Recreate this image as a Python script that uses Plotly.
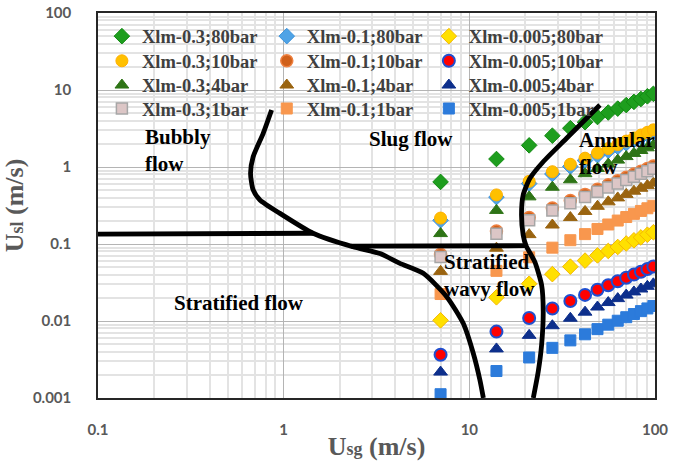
import numpy as np
import plotly.graph_objects as go

# ---------------- data ----------------
usg = [7, 14, 21, 28, 35, 42, 49, 56, 63, 70, 77, 84, 91, 98]

names = ["Xlm-0.3;80bar", "Xlm-0.1;80bar", "Xlm-0.005;80bar",
         "Xlm-0.3;10bar", "Xlm-0.1;10bar", "Xlm-0.005;10bar",
         "Xlm-0.3;4bar", "Xlm-0.1;4bar", "Xlm-0.005;4bar",
         "Xlm-0.3;1bar", "Xlm-0.1;1bar", "Xlm-0.005;1bar"]

usl_03_80 = [0.64, 1.27, 1.91, 2.55, 3.19, 3.82, 4.46, 5.10, 5.73, 6.37, 7.01, 7.64, 8.28, 8.92]
usl_01_80 = [0.203, 0.406, 0.609, 0.812, 1.015, 1.218, 1.421, 1.624, 1.827, 2.03, 2.233, 2.436, 2.639, 2.842]
usl_0005_80 = [0.0102, 0.0203, 0.0305, 0.0406, 0.0508, 0.0609, 0.0711, 0.0812, 0.0914, 0.1015, 0.1117, 0.1218, 0.132, 0.142]
usl_03_10 = [0.217, 0.434, 0.651, 0.868, 1.085, 1.302, 1.519, 1.736, 1.953, 2.17, 2.387, 2.604, 2.821, 3.038]
usl_01_10 = [0.0735, 0.147, 0.2205, 0.294, 0.3675, 0.441, 0.5145, 0.588, 0.6615, 0.735, 0.8085, 0.882, 0.9555, 1.029]
usl_0005_10 = [0.00364, 0.00728, 0.01092, 0.01456, 0.0182, 0.02184, 0.02548, 0.02912, 0.03276, 0.0364, 0.04004, 0.04368, 0.04732, 0.05096]
usl_03_4 = [0.1365, 0.273, 0.4095, 0.546, 0.6825, 0.819, 0.9555, 1.092, 1.2285, 1.365, 1.5015, 1.638, 1.7745, 1.911]
usl_01_4 = [0.0441, 0.0882, 0.1323, 0.1764, 0.2205, 0.2646, 0.3087, 0.3528, 0.3969, 0.441, 0.4851, 0.5292, 0.5733, 0.6174]
usl_0005_4 = [0.00217, 0.00434, 0.00651, 0.00868, 0.01085, 0.01302, 0.01519, 0.01736, 0.01953, 0.0217, 0.02387, 0.02604, 0.02821, 0.03038]
usl_03_1 = [0.0679, 0.1358, 0.2037, 0.2716, 0.3395, 0.4074, 0.4753, 0.5432, 0.6111, 0.679, 0.7469, 0.8148, 0.8827, 0.9506]
usl_01_1 = [0.0224, 0.0448, 0.0672, 0.0896, 0.112, 0.1344, 0.1568, 0.1792, 0.2016, 0.224, 0.2464, 0.2688, 0.2912, 0.3136]
usl_0005_1 = [0.00112, 0.00224, 0.00336, 0.00448, 0.0056, 0.00672, 0.00784, 0.00896, 0.01008, 0.0112, 0.01232, 0.01344, 0.01456, 0.01568]

series_values = [usl_03_80, usl_01_80, usl_0005_80,
                 usl_03_10, usl_01_10, usl_0005_10,
                 usl_03_4, usl_01_4, usl_0005_4,
                 usl_03_1, usl_01_1, usl_0005_1]

# flow-regime boundary lines
bound_left_x = [0.861, 0.776, 0.685, 0.663, 0.685, 0.745, 0.955, 1.44, 2.36, 3.30, 4.23, 5.65, 7.55, 9.27, 10.5, 11.4, 11.9]
bound_left_y = [5.50, 2.74, 1.36, 0.828, 0.503, 0.373, 0.25, 0.138, 0.092, 0.075, 0.056, 0.0416, 0.0207, 0.00933, 0.00381, 0.00171, 0.001]
bound_h1_x = [0.1, 1.44]
bound_h1_y = [0.134, 0.138]
bound_h2_x = [2.3, 20.2]
bound_h2_y = [0.094, 0.095]
bound_right_x = [50.5, 33.4, 25.0, 21.2, 19.5, 19.1, 19.5, 20.2, 22.5, 24.5, 25.0, 24.5, 23.5, 22.1]
bound_right_y = [6.39, 2.36, 1.17, 0.713, 0.433, 0.238, 0.131, 0.095, 0.0589, 0.0294, 0.0132, 0.00488, 0.0022, 0.001]

x_tick_vals = [0.1, 1, 10, 100]
x_tick_text = ["0.1", "1", "10", "100"]
y_tick_vals = [0.001, 0.01, 0.1, 1, 10, 100]
y_tick_text = ["0.001", "0.01", "0.1", "1", "10", "100"]

# ---------------- styles ----------------
styles = [
    dict(symbol="diamond", size=12, color="#1E9E1E", line=dict(color="#138A13", width=1)),
    dict(symbol="diamond", size=12, color="#4FA3E6", line=dict(color="#3D92DA", width=1)),
    dict(symbol="diamond", size=12, color="#FFE000", line=dict(color="#F5B800", width=1)),
    dict(symbol="circle", size=12, color="#FFC000", line=dict(color="#FFB000", width=1)),
    dict(symbol="circle", size=12, color="#D0601A", line=dict(color="#EE8040", width=1.5)),
    dict(symbol="circle", size=12, color="#FF0000", line=dict(color="#1F4FD0", width=2)),
    dict(symbol="triangle-up", size=12, color="#2E7416", line=dict(color="#2E7416", width=1)),
    dict(symbol="triangle-up", size=12, color="#9A6410", line=dict(color="#9A6410", width=1)),
    dict(symbol="triangle-up", size=12, color="#0D2F8C", line=dict(color="#0D2F8C", width=1)),
    dict(symbol="square", size=11, color="#DCC6C6", line=dict(color="#A6A6A6", width=1.5)),
    dict(symbol="square", size=11, color="#F8974E", line=dict(color="#F8974E", width=1)),
    dict(symbol="square", size=11, color="#2C7BDB", line=dict(color="#2C7BDB", width=1)),
]

# legend grid: 3 columns x 4 rows, one legend box per entry
legend_cols_x = [0.007, 0.303, 0.594]
legend_rows_y = [0.988, 0.924, 0.861, 0.800]
legend_font = dict(family="Liberation Serif", size=18.5, color="#404040", weight="bold")

fig = go.Figure()
legend_layout = {}
for i, (name, vals, st) in enumerate(zip(names, series_values, styles)):
    key = "legend" if i == 0 else f"legend{i + 1}"
    legend_layout[key] = dict(orientation="v", x=legend_cols_x[i % 3], y=legend_rows_y[i // 3],
                              xanchor="left", yanchor="top", font=legend_font,
                              bgcolor="rgba(0,0,0,0)", borderwidth=0)
    fig.add_trace(go.Scatter(
        x=usg, y=vals, mode="markers", name=name, legend=key,
        marker=dict(symbol=st["symbol"], size=st["size"], color=st["color"], line=st["line"]),
    ))

for bx, by, shape in [(bound_left_x, bound_left_y, "spline"),
                      (bound_h1_x, bound_h1_y, "linear"),
                      (bound_h2_x, bound_h2_y, "linear"),
                      (bound_right_x, bound_right_y, "spline")]:
    fig.add_trace(go.Scatter(x=bx, y=by, mode="lines", showlegend=False, hoverinfo="skip",
                             line=dict(color="black", width=4.8, shape=shape, smoothing=0.6)))

label_font = dict(family="Liberation Serif", size=21, color="black", weight="bold")
annotations = [
    dict(x=-0.759, y=0.208, text="Bubbly<br>flow", xanchor="left", yanchor="middle", align="left"),
    dict(x=0.686, y=0.364, text="Slug flow", xanchor="center", yanchor="middle"),
    dict(x=1.579, y=0.169, text="Annular<br>flow", xanchor="left", yanchor="middle", align="left"),
    dict(x=0.852, y=-1.403, text="Stratified<br>wavy flow", xanchor="left", yanchor="middle", align="left"),
    dict(x=-0.238, y=-1.766, text="Stratified flow", xanchor="center", yanchor="middle"),
]
for a in annotations:
    a.update(xref="x", yref="y", showarrow=False, font=label_font)

minor_x = [m * 10.0 ** e for e in (-1, 0, 1) for m in range(2, 10)]
minor_y = [m * 10.0 ** e for e in (-3, -2, -1, 0, 1) for m in range(2, 10)]

tick_font = dict(family="Lato", size=15, color="#595959", weight="bold")
title_font = dict(family="Liberation Serif", size=26, color="#595959", weight="bold")

fig.update_layout(
    width=673, height=461,
    margin=dict(l=98, r=18, t=13, b=63),
    paper_bgcolor="white", plot_bgcolor="white",
    showlegend=True,
    annotations=annotations,
    xaxis=dict(type="log", range=[-1, 2], tickvals=x_tick_vals, ticktext=x_tick_text,
               showgrid=True, gridcolor="#B4B4B4", gridwidth=1,
               minor=dict(tickvals=minor_x, showgrid=True, gridcolor="#E3E3E3", gridwidth=1.5),
               showline=True, linecolor="#262626", linewidth=1.5, mirror=True,
               ticks="", tickfont=tick_font, ticklabelstandoff=17, automargin=False,
               title=dict(text="U<span style='font-size:18px'>sg</span> (m/s)", font=title_font, standoff=4),
               zeroline=False),
    yaxis=dict(type="log", range=[-3, 2], tickvals=y_tick_vals, ticktext=y_tick_text,
               showgrid=True, gridcolor="#B4B4B4", gridwidth=1,
               minor=dict(tickvals=minor_y, showgrid=True, gridcolor="#E3E3E3", gridwidth=1.5),
               showline=True, linecolor="#262626", linewidth=1.5, mirror=True,
               ticks="", tickfont=tick_font, ticklabelstandoff=22, automargin=False,
               title=dict(text="U<span style='font-size:18px'>sl</span> (m/s)", font=title_font, standoff=2),
               zeroline=False),
    **legend_layout,
)

fig.write_html("out.html", config={"displayModeBar": False},
               post_script="document.body.style.margin='0';")
